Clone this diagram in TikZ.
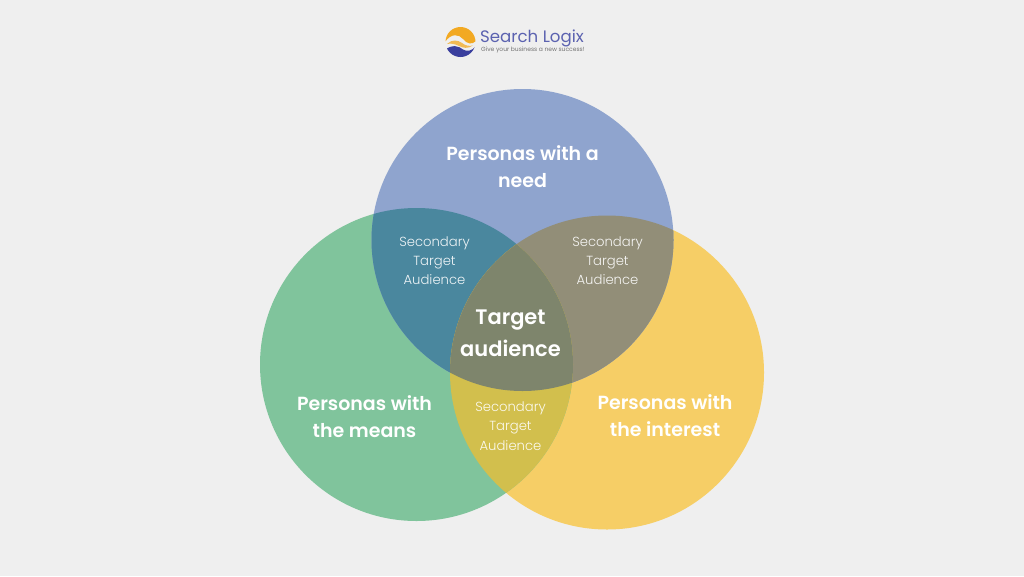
\documentclass[tikz,border=0pt]{standalone}
\usepackage{fontspec}
\setmainfont{Poppins SemiBold}
\newfontfamily\lightf{Poppins Light}
\newfontfamily\regf{Poppins}
\definecolor{bgc}{HTML}{EFEFEF}
\definecolor{bluec}{HTML}{8FA4CE}
\definecolor{greenc}{HTML}{80C49C}
\definecolor{yellowc}{HTML}{F6CE66}
\definecolor{bgreen}{HTML}{4A879E}
\definecolor{byellow}{HTML}{928E78}
\definecolor{gyellow}{HTML}{D2BF4D}
\definecolor{allc}{HTML}{7E856C}
\definecolor{logob}{HTML}{5B62B0}
\definecolor{logoo}{HTML}{F2A922}
\definecolor{logod}{HTML}{3A3F9E}
\tikzset{
  x=1pt,y=-1pt,
  main/.style={text=white,align=center,font=\fontsize{19}{27}\selectfont},
  centre/.style={text=white,align=center,font=\fontsize{21}{31.5}\selectfont},
  second/.style={text=white,align=center,font=\lightf\fontsize{13.2}{19.3}\selectfont,opacity=.9},
}
\begin{document}
\begin{tikzpicture}
\useasboundingbox (0,0) rectangle (1024,576);
\fill[bgc] (0,0) rectangle (1024,576);
% circles
\fill[yellowc] (607,372.5) circle[radius=157];
\fill[greenc] (416.5,364.5) circle[radius=156.5];
\fill[bluec] (522.5,240) circle[radius=151];
\begin{scope}
  \clip (522.5,240) circle[radius=151];
  \fill[bgreen] (416.5,364.5) circle[radius=156.5];
\end{scope}
\begin{scope}
  \clip (522.5,240) circle[radius=151];
  \fill[byellow] (607,372.5) circle[radius=157];
\end{scope}
\begin{scope}
  \clip (416.5,364.5) circle[radius=156.5];
  \fill[gyellow] (607,372.5) circle[radius=157];
\end{scope}
\begin{scope}
  \clip (522.5,240) circle[radius=151];
  \clip (416.5,364.5) circle[radius=156.5];
  \fill[allc] (607,372.5) circle[radius=157];
\end{scope}
% labels
\node[main] (need) at (522.5,167) {Personas with a\\need};
\node[main] (means) at (364.5,416.5) {Personas with\\the means};
\node[main] (interest) at (665,415.5) {Personas with\\the interest};
\node[centre] (target) at (510.5,333.5) {Target\\audience};
\node[second] (s1) at (434.5,260.5) {Secondary\\Target\\Audience};
\node[second] (s2) at (607.5,260.5) {Secondary\\Target\\Audience};
\node[second] (s3) at (510.5,426) {Secondary\\Target\\Audience};
% logo
\begin{scope}
  \clip (460.5,42) circle[radius=15];
  \fill[logoo] (445,42) .. controls (451,33) and (459,34) .. (463,39) .. controls (467,44) and (472,45) .. (476,41) -- (476,26) -- (445,26) -- cycle;
  \fill[logoo!75!bgc] (447,44) .. controls (452,39) and (458,40) .. (462,43) .. controls (465,45.5) and (469,46.5) .. (473,45.5) .. controls (468,49) and (463,48) .. (459,46) .. controls (455,44) and (451,43) .. (447,44) -- cycle;
  \fill[logod] (445,50) .. controls (452,44) and (459,46) .. (463,49.5) .. controls (467,52) and (472,51) .. (476,46) -- (476,58) -- (445,58) -- cycle;
\end{scope}
\node[anchor=west,inner sep=0pt,text=logob,font=\regf\fontsize{16.6}{20}\selectfont] (brand) at (480,38) {Search Logix};
\node[anchor=west,inner sep=0pt,text=gray!90!black,font=\regf\fontsize{6}{7}\selectfont] (tag) at (481,50) {Give your business a new success!};
\end{tikzpicture}
\end{document}
